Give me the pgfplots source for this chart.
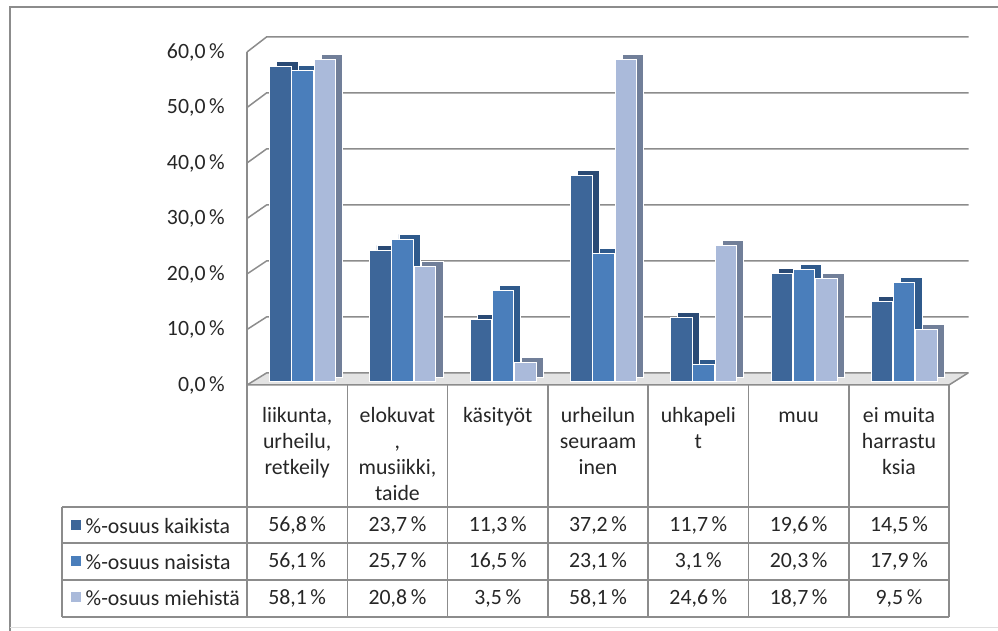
\documentclass[border=0pt]{standalone}
\usepackage{fontspec}
\setmainfont{Carlito}
\usepackage{pgfplots}
\usepackage{pgfplotstable}
\pgfplotsset{compat=1.18}

\definecolor{cA}{HTML}{3D6699}
\definecolor{cAs}{HTML}{2A4A75}
\definecolor{cB}{HTML}{4A7EBB}
\definecolor{cBs}{HTML}{2F5A8C}
\definecolor{cC}{HTML}{AABADA}
\definecolor{cCs}{HTML}{717F99}
\definecolor{wall}{HTML}{8C8C8C}
\definecolor{txt}{HTML}{262626}

\newcommand{\cf}{\fontsize{21.8bp}{26bp}\selectfont}

% values in %
\pgfplotstableread{
x kaikista naisista miehista
0 56.8 56.1 58.1
1 23.7 25.7 20.8
2 11.3 16.5 3.5
3 37.2 23.1 58.1
4 11.7 3.1 24.6
5 19.6 20.3 18.7
6 14.5 17.9 9.5
}\harrastus

\begin{document}
\begin{tikzpicture}[x=1bp,y=1bp]
\path[use as bounding box] (0,0) rectangle (998,631);
% outer frame
\draw[wall, line width=2.5bp] (10,0) -- (10,624) -- (998,624);
\draw[gray!25, line width=1bp] (10,3) -- (998,3);

\begin{axis}[
  at={(247bp,246bp)}, anchor=south west, scale only axis,
  width=702bp, height=333bp,
  xmin=-0.5, xmax=6.5, ymin=0, ymax=60,
  axis line style={draw=none}, major tick length=0pt,
  xtick=\empty, ytick={0,10,20,30,40,50,60},
  yticklabels={{0,0\,\%},{10,0\,\%},{20,0\,\%},{30,0\,\%},{40,0\,\%},{50,0\,\%},{60,0\,\%}},
  yticklabel style={anchor=east, inner sep=0pt, xshift=-22bp, font=\cf, text=txt},
  clip=false,
  ybar, bar width=0.215,
  legend style={draw=none, fill=none, inner sep=0pt, outer sep=0pt,
    at={(-0.2511,-0.404)}, anchor=north west, font=\cf, text=txt,
    nodes={inner sep=0pt, text height=14bp, text depth=4bp},
    row sep=18bp,
    /tikz/every odd column/.append style={column sep=5bp}},
  legend cell align=left,
  legend image code/.code={\fill[#1, draw=none] (0bp,-4bp) rectangle (10bp,6bp);},
]
% floor
\fill[gray!22] (axis cs:-0.5,0) -- (axis cs:6.5,0)
  -- ([xshift=19bp,yshift=12bp]axis cs:6.5,0)
  -- ([xshift=19bp,yshift=12bp]axis cs:-0.5,0) -- cycle;
\draw[wall, line width=1.5bp] (axis cs:-0.5,0) -- (axis cs:6.5,0)
  -- ([xshift=19bp,yshift=12bp]axis cs:6.5,0);
% side wall and back grid
\draw[wall, line width=1.5bp] (axis cs:-0.5,0) -- (axis cs:-0.5,60);
\pgfplotsinvokeforeach{0,10,20,30,40,50,60}{
  \draw[wall, line width=1.5bp] (axis cs:-0.5,#1)
    -- ([xshift=19.5bp,yshift={12bp+0.05bp*#1}]axis cs:-0.5,#1)
    -- ([xshift=19.5bp,yshift={12bp+0.05bp*#1}]axis cs:6.5,#1);
}

% bars: darker copy behind for the depth, then the front face
\addplot[forget plot, fill=cAs, draw=white, line width=0.8bp, bar shift=-0.1665, xshift=7bp, yshift=8bp] table[x=x, y=kaikista] {\harrastus};
\addplot[fill=cA, draw=white, line width=1bp, bar shift=-0.1665, yshift=3bp] table[x=x, y=kaikista] {\harrastus};
\addlegendentry{\%-osuus kaikista}
\addplot[forget plot, fill=cBs, draw=white, line width=0.8bp, bar shift=0.053, xshift=7bp, yshift=8bp] table[x=x, y=naisista] {\harrastus};
\addplot[fill=cB, draw=white, line width=1bp, bar shift=0.053, yshift=3bp] table[x=x, y=naisista] {\harrastus};
\addlegendentry{\%-osuus naisista}
\addplot[forget plot, fill=cCs, draw=white, line width=0.8bp, bar shift=0.277, xshift=7bp, yshift=8bp] table[x=x, y=miehista] {\harrastus};
\addplot[fill=cC, draw=white, line width=1bp, bar shift=0.277, yshift=3bp] table[x=x, y=miehista] {\harrastus};
\addlegendentry{\%-osuus miehistä}
\end{axis}

% data table below the chart (pixel coordinates from the top left)
\begin{scope}[shift={(0,631)}, yscale=-1]
  \foreach \yy in {507,543,580,617} \draw[wall, line width=1.5bp] (62,\yy) -- (949,\yy);
  \draw[wall, line width=1.5bp] (62,507) -- (62,617);
  \foreach \j in {0,...,7} \draw[wall, line width=1.5bp] ({247+100.3*\j},385) -- ({247+100.3*\j},617);
  \def\cx#1{{247+100.3*(#1+0.5)}}
  \tikzset{cat/.style={anchor=north, inner sep=0pt, align=center, font=\cf, text=txt}}
  \node[cat] at (\cx{0},404) {\strut liikunta,\\urheilu,\\retkeily};
  \node[cat] at (\cx{1},404) {\strut elokuvat\\,\\musiikki,\\taide};
  \node[cat] at (\cx{2},404) {\strut käsityöt};
  \node[cat] at (\cx{3},404) {\strut urheilun\\seuraam\\inen};
  \node[cat] at (\cx{4},404) {\strut uhkapeli\\t};
  \node[cat] at (\cx{5},404) {\strut muu};
  \node[cat] at (\cx{6},404) {\strut ei muita\\harrastu\\ksia};
  \tikzset{val/.style={anchor=base, inner sep=0pt, font=\cf, text=txt}}
  \pgfkeys{/pgf/number format/.cd, use comma, fixed, fixed zerofill, precision=1, assume math mode=true}
  \foreach \k in {0,...,6}{
    \foreach \col/\yy in {kaikista/531.6, naisista/568, miehista/605}{
      \pgfplotstablegetelem{\k}{\col}\of\harrastus
      \node[val] at (\cx{\k},\yy) {\pgfmathprintnumber{\pgfplotsretval}\,\%};
    }
  }
\end{scope}
\end{tikzpicture}
\end{document}
